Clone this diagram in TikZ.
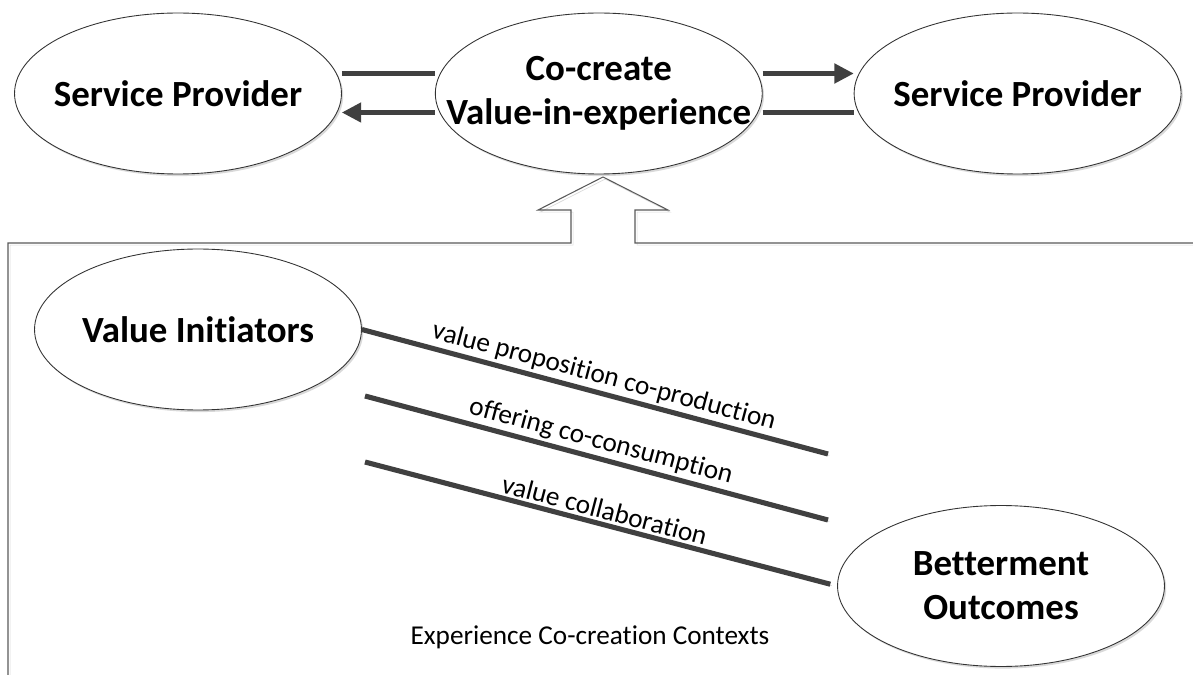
\documentclass[tikz,border=0pt]{standalone}
\usepackage{fontspec}
\setmainfont{Carlito}[Ligatures={NoCommon}]
\usetikzlibrary{shapes.geometric,positioning,calc,arrows.meta,shadows}
\tikzset{
  blob/.style={ellipse,draw=black!80,line width=0.5pt,fill=white,
    minimum width=6.54cm,minimum height=3.22cm,inner xsep=-1cm,inner ysep=0pt,
    align=center,font=\fontsize{21}{25}\selectfont\bfseries,
    drop shadow={shadow xshift=1pt,shadow yshift=-1.2pt,fill=black!15,opacity=1}},
  flow/.style={line width=2.3pt,draw=black!75},
  link/.style={line width=2.9pt,draw=black!75,
    preaction={draw=black!18,transform canvas={xshift=0.8pt,yshift=-0.8pt}}},
  frame/.style={draw=black!65,line width=0.6pt,
    preaction={draw=black!15,transform canvas={xshift=1.2pt,yshift=-1.2pt}}},
  tag/.style={font=\fontsize{15.5}{18}\selectfont,inner sep=1.5pt},
  >={Triangle[length=11pt,width=11pt]}
}
\begin{document}
\begin{tikzpicture}[x=0.02cm,y=-0.02cm]
  \useasboundingbox (0,0) rectangle (1193,675);

  % context frame with the up arrow
  \draw[frame] (1193,243) -- (635,243) -- (635,210) -- (668,210) -- (603,177)
    -- (538,210) -- (571,210) -- (571,243) -- (8,243) -- (8,675);

  \node[blob] (sp1) at (178,93.5) {Service Provider};
  \node[blob,right=1.86cm of sp1] (cc) {Co-create\\Value-in-experience};
  \node[blob,right=1.82cm of cc] (sp2) {Service Provider};

  \node[blob] (vi) at (198,329.5) {Value Initiators};
  \node[blob] (bo) at (1001,586) {Betterment\\Outcomes};

  % exchanges with the providers
  \draw[flow] ($(sp1.east)+(0,-20)$) -- ($(cc.west)+(0,-20)$);
  \draw[flow,->] ($(cc.west)+(0,19)$) -- ($(sp1.east)+(0,19)$);
  \draw[flow,->] ($(cc.east)+(0,-20)$) -- ($(sp2.west)+(0,-20)$);
  \draw[flow] ($(cc.east)+(0,19)$) -- ($(sp2.west)+(0,19)$);

  % the three co-creation links
  \coordinate (p1) at (828,454);
  \coordinate (o0) at (365,396);
  \coordinate (o1) at (828,520);
  \coordinate (c0) at (365,462);
  \draw[link] (vi.east) -- node[tag,sloped,above,pos=0.51]{value proposition co-production} (p1);
  \draw[link] (o0) -- node[tag,sloped,above]{offering co-consumption} (o1);
  \draw[link,shorten >=4pt] (c0) -- node[tag,sloped,above]{value collaboration} (bo.west);

  \node[tag] (ctx) at (590,637) {Experience Co-creation Contexts};
\end{tikzpicture}
\end{document}
